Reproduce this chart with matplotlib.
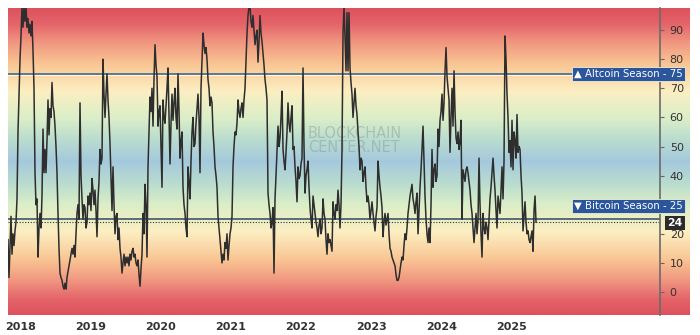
import numpy as np
import pandas as pd
import matplotlib
matplotlib.use('Agg')
import matplotlib.pyplot as plt
import matplotlib.transforms as mtransforms
from matplotlib.colors import LinearSegmentedColormap

# Altcoin season index, roughly one reading every 5 days
start_date = '2017-10-30'
end_date = '2025-05-08'
index_values = [
    18, 5, 15, 26, 13, 20, 16, 21, 24, 32, 55, 68, 80, 88, 98, 91, 98, 93, 98, 91,
    94, 89, 92, 88, 93, 83, 70, 41, 30, 32, 12, 22, 27, 22, 33, 56, 41, 49, 41, 52,
    66, 54, 63, 60, 72, 64, 62, 57, 50, 41, 27, 15, 6.5, 5, 4, 2, 1, 3, 1, 5,
    7, 9, 11, 13, 15, 13, 16, 12, 20, 27, 30, 25, 65, 40, 32, 25, 30, 29, 22, 24,
    33, 30, 34, 28, 39, 35,
    30, 35, 28, 19, 32, 38, 49, 44, 46, 80, 68, 60, 68, 75, 66, 60, 51, 40, 28, 43,
    30, 20, 26, 27, 18, 22, 15, 12, 6.5, 10, 13, 9, 12, 10, 12, 9, 13, 11, 14, 15,
    12, 13, 10, 9, 11, 6, 2, 8, 13, 27, 20, 37, 30, 12, 43, 55, 67, 62, 70, 57,
    73, 85, 78, 74, 57, 62, 64, 50, 36, 66, 60, 58, 64, 70, 77, 60, 44, 58, 68, 59,
    65, 70, 60, 56, 75,
    62, 46, 52, 55, 36, 30, 27, 22, 19, 43, 38, 32, 45, 55, 60, 50, 51, 58, 63, 68,
    60, 41, 70, 80, 89, 85, 82, 84, 80, 73, 70, 64, 67, 65, 55, 50, 43, 40, 36, 26,
    22, 18, 14, 10, 13, 11, 17, 15, 20, 11, 16, 20, 22, 26, 43, 50, 55, 54, 58, 66,
    62, 60, 63, 65, 60, 66, 70, 80, 89, 95, 98, 98, 93, 91, 95, 90, 85, 88, 90, 79,
    86, 95, 89, 86, 82, 78, 73, 70, 66,
    34, 30, 27, 22, 24, 29, 6.5, 32, 40, 49, 57, 50, 53, 60, 69, 49, 45, 42, 48, 55,
    65, 58, 55, 60, 64, 49, 50, 43, 38, 31, 43, 39, 40, 44, 46, 77, 50, 34, 40, 42,
    45, 36, 29, 25, 22, 33, 30, 27, 24, 22, 19, 23, 25, 20, 22, 32, 27, 25, 18, 13,
    20, 17, 18, 16, 14, 31, 27, 25, 30, 28, 35, 30, 22, 30, 49, 89, 98, 88, 76, 96,
    76, 96, 77,
    72, 68, 60, 65, 70, 64, 61, 55, 50, 42, 46, 45, 38, 41, 43, 36, 31, 33, 30, 25,
    28, 31, 27, 24, 21, 26, 29, 45, 40, 36, 33, 29, 19, 24, 27, 23, 25, 27, 20, 15,
    14, 12, 11, 10, 9, 6, 4, 4, 5, 7.5, 10, 12, 11, 16, 20, 18, 22, 27, 30, 33,
    35, 37, 32, 30, 27, 31, 34, 20, 28, 36, 42, 49, 57, 45, 33, 25, 20, 17, 22, 17,
    30, 49, 36, 42,
    44, 38, 40, 56, 50, 59, 62, 68, 59, 65, 76, 84, 74, 70, 66, 48, 60, 70, 57, 76,
    62, 53, 51, 55, 49, 52, 59, 25, 42, 40, 38, 42, 43, 41, 38, 35, 30, 27, 22, 17,
    22, 27, 20, 25, 46, 30, 20, 12, 27, 22, 20, 24, 22, 18, 25, 32, 36, 41, 46, 40,
    35, 28, 22, 33, 30, 27, 35, 43, 32, 45, 88, 80, 68, 60, 48, 52, 43, 59, 42, 55,
    52, 46, 61, 48, 50, 49, 40, 34, 21, 26, 31, 24, 20, 21, 18, 17, 19, 21, 14, 28,
    33, 24,
]
years = [2018, 2019, 2020, 2021, 2022, 2023, 2024, 2025]
# 30 sits under the Bitcoin Season label in the original, so it is not shown
y_ticks = [0, 10, 20, 40, 50, 60, 70, 80, 90]
altcoin_level = 75
bitcoin_level = 25
last_value = 24

dates = pd.date_range(start_date, end_date, periods=len(index_values))

W, H = 700, 335
fig = plt.figure(figsize=(W / 100, H / 100), dpi=100)

# background band: red at the edges, blue in the middle
grad_colors = [
    (0.00, '#dd525c'), (0.05, '#e4646a'), (0.11, '#f09680'), (0.18, '#f9c593'),
    (0.27, '#fcefc2'), (0.36, '#daeec8'), (0.43, '#b9dccf'), (0.50, '#a5c9dd'),
    (0.57, '#b9dccf'), (0.64, '#daeec8'), (0.73, '#fcefc2'), (0.82, '#f9c593'),
    (0.89, '#f09680'), (0.95, '#e4646a'), (1.00, '#dd525c'),
]
cmap = LinearSegmentedColormap.from_list('season', grad_colors)
bg = fig.add_axes([8 / W, 20 / H, 682 / W, 307 / H])
bg.imshow(np.linspace(0, 1, 512).reshape(-1, 1), cmap=cmap, aspect='auto',
          origin='lower', extent=[0, 1, 0, 1])
bg.set_axis_off()

ax = fig.add_axes([8 / W, 20 / H, 652 / W, 307 / H])
ax.patch.set_alpha(0)
ax.set_ylim(-7.9, 97.6)
ax.set_xlim(pd.Timestamp('2017-10-30'), pd.Timestamp('2027-02-12'))

# season lines
ax.axhline(altcoin_level, color='#52708e', lw=1.3, zorder=2)
ax.axhline(altcoin_level - 0.55, color='#fffbea', lw=0.7, zorder=2)
ax.axhline(bitcoin_level, color='#3e5670', lw=1.2, zorder=2)
ax.axhline(last_value, color='#333333', lw=0.8, ls=(0, (1, 1.5)), zorder=2)

ax.plot(dates, index_values, color='#2e2e2e', lw=1.1, zorder=3)

# watermark
trans = mtransforms.blended_transform_factory(ax.transAxes, ax.transData)
ax.text(0.46, 52, 'BLOCKCHAIN\nCENTER.NET', transform=trans, fontsize=10.5,
        color='#7f8f8f', alpha=0.4, va='center', ha='left', linespacing=0.95,
        zorder=1)

for s in ['top', 'left', 'bottom']:
    ax.spines[s].set_visible(False)
ax.spines['right'].set_color('#6b6b6b')
ax.spines['right'].set_linewidth(1.2)

ax.set_xticks([pd.Timestamp(f'{y}-01-01') for y in years])
ax.set_xticklabels([str(y) for y in years])
ax.tick_params(axis='x', length=0, pad=5, labelsize=8, labelcolor='#333333')
for lab in ax.get_xticklabels():
    lab.set_fontweight('bold')

ax.yaxis.tick_right()
ax.set_yticks(y_ticks)
ax.tick_params(axis='y', length=3, width=0.8, color='#666666', pad=4,
               labelsize=8, labelcolor='#333333')

# right hand labels
box_style = dict(boxstyle='square,pad=0.2', fc='#2b569b', ec='#f2ecd6', lw=0.6)
ax.text(1.035, altcoin_level, '\u25B2 Altcoin Season - 75', transform=trans,
        ha='right', va='center', color='white', fontsize=7.3, clip_on=False,
        zorder=6, bbox=box_style)
ax.text(1.035, bitcoin_level + 4.7, '\u25BC Bitcoin Season - 25', transform=trans,
        ha='right', va='center', color='white', fontsize=7.3, clip_on=False,
        zorder=6, bbox=box_style)
ax.text(1.035, last_value - 0.3, str(last_value), transform=trans, ha='right',
        va='center', color='white', fontsize=7.8, fontweight='bold',
        clip_on=False, zorder=6,
        bbox=dict(boxstyle='square,pad=0.2', fc='#2b2b2b', ec='none'))

fig.savefig('out.png', dpi=100)
